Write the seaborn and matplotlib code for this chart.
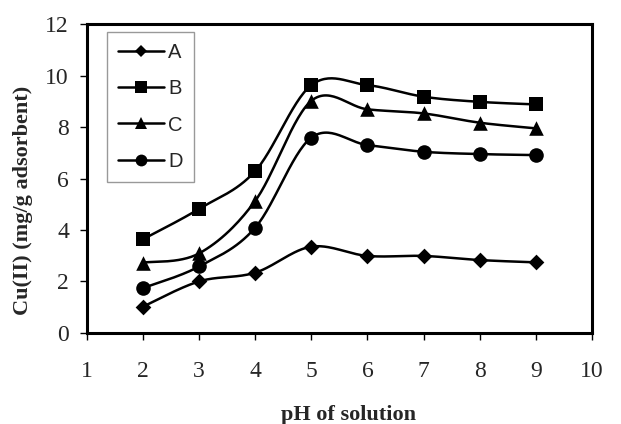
import numpy as np
import pandas as pd
import matplotlib
matplotlib.use("Agg")
import matplotlib.pyplot as plt
from matplotlib.lines import Line2D
import seaborn as sns

ph = [2, 3, 4, 5, 6, 7, 8, 9]
series_A = [1.02, 2.00, 2.34, 3.35, 2.99, 2.99, 2.83, 2.74]
series_B = [3.64, 4.82, 6.29, 9.63, 9.63, 9.18, 8.98, 8.88]
series_C = [2.73, 3.09, 5.13, 9.02, 8.69, 8.53, 8.17, 7.95]
series_D = [1.74, 2.58, 4.09, 7.59, 7.30, 7.04, 6.95, 6.91]
labels = ["A", "B", "C", "D"]
markers = {"A": "D", "B": "s", "C": "^", "D": "o"}
msizes = {"A": 8, "B": 10.5, "C": 10.5, "D": 10.5}
leg_msizes = {"A": 6.5, "B": 8, "C": 8.5, "D": 8.5}

sns.set_theme(style="white")
plt.rcParams["font.family"] = ["Liberation Serif", "DejaVu Serif"]


def smooth(x, y, n=30):
    """Excel-style smoothed curve (Catmull-Rom via cubic Bezier)."""
    P = np.column_stack([x, y]).astype(float)
    m = len(P)
    out = []
    for i in range(m - 1):
        p0 = P[max(i - 1, 0)]
        p1 = P[i]
        p2 = P[i + 1]
        p3 = P[min(i + 2, m - 1)]
        c1 = p1 + (p2 - p0) / 6.0
        c2 = p2 - (p3 - p1) / 6.0
        t = np.linspace(0, 1, n, endpoint=(i == m - 2))[:, None]
        b = ((1 - t) ** 3) * p1 + 3 * ((1 - t) ** 2) * t * c1 + 3 * (1 - t) * t ** 2 * c2 + t ** 3 * p2
        out.append(b)
    out = np.vstack(out)
    return out[:, 0], out[:, 1]


fig, ax = plt.subplots(figsize=(6.21, 4.24), dpi=100)
fig.subplots_adjust(left=0.140, right=0.953, top=0.943, bottom=0.215)

all_series = {"A": series_A, "B": series_B, "C": series_C, "D": series_D}
for lab in labels:
    xs, ys = smooth(ph, all_series[lab])
    curve = pd.DataFrame({"x": xs, "y": ys})
    sns.lineplot(data=curve, x="x", y="y", ax=ax, color="black", linewidth=1.8,
                 sort=False, estimator=None, legend=False)
    pts = pd.DataFrame({"x": ph, "y": all_series[lab]})
    sns.scatterplot(data=pts, x="x", y="y", ax=ax, marker=markers[lab],
                    s=msizes[lab] ** 2, color="black", edgecolor="black",
                    linewidth=0, legend=False, zorder=5)

ax.set_xlim(1, 10)
ax.set_ylim(0, 12)
ax.set_xticks(range(1, 11))
ax.set_yticks(range(0, 13, 2))
ax.tick_params(axis="both", direction="out", length=5, width=1, color="black",
               labelsize=17, bottom=True, left=True)
ax.tick_params(axis="x", pad=15)
ax.tick_params(axis="y", pad=8)
for s in ax.spines.values():
    s.set_linewidth(2.2)
    s.set_color("black")

ax.set_xlabel("pH of solution", fontsize=16, fontweight="bold")
ax.set_ylabel("Cu(II) (mg/g adsorbent)", fontsize=16, fontweight="bold")
ax.xaxis.set_label_coords(0.518, -0.234)
ax.yaxis.set_label_coords(-0.107, 0.43)

handles = [Line2D([0], [0], color="black", linewidth=1.8, marker=markers[l],
                  markersize=leg_msizes[l], markeredgewidth=0) for l in labels]
leg = ax.legend(handles, labels, loc="upper left", bbox_to_anchor=(0.0396, 0.974),
                frameon=True, fancybox=False, edgecolor="#808080",
                prop={"family": ["Liberation Sans"], "size": 14.5},
                handlelength=2.3, handletextpad=0.2, labelspacing=0.85,
                borderpad=0.55, borderaxespad=0)
leg.get_frame().set_linewidth(1)

fig.savefig("out.png", dpi=100)
